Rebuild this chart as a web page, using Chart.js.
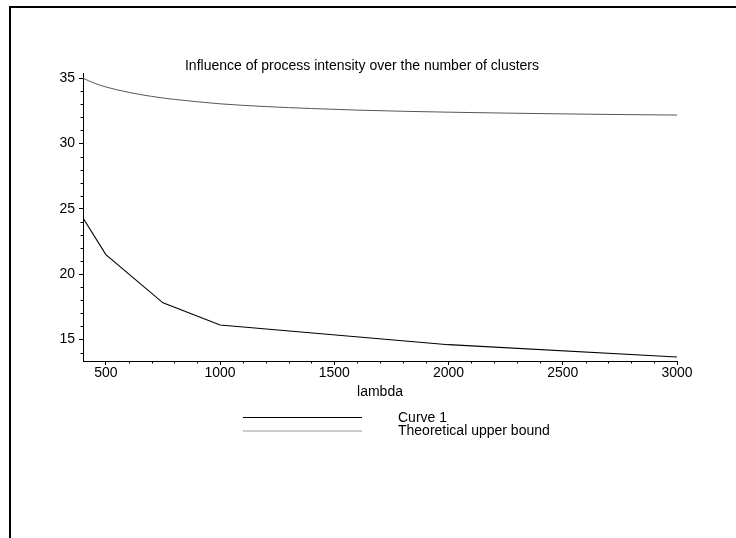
<!DOCTYPE html>
<html>
<head>
<meta charset="utf-8">
<script src="https://cdn.jsdelivr.net/npm/chart.js@4.4.0/dist/chart.umd.min.js"></script>
<style>
  html, body { margin: 0; padding: 0; background: #fff; overflow: hidden; }
  #wrap { position: absolute; left: 0; top: 0; width: 736px; height: 538px; }
</style>
</head>
<body>
<div id="wrap"><canvas id="chart"></canvas></div>
<script>
// values
const lambdaCurve = [400, 500, 750, 1000, 2000, 3000];
const curve1 = [24.3, 21.5, 17.8, 16.1, 14.6, 13.66];
const lambdaBound = [400, 450, 500, 600, 700, 800, 900, 1000, 1200, 1400, 1600, 1800, 2000, 2250, 2500, 2750, 3000];
const upperBound = [35.0, 34.62, 34.33, 33.92, 33.61, 33.38, 33.2, 33.04, 32.83, 32.68, 32.56, 32.47, 32.4, 32.33, 32.27, 32.22, 32.18];
const xTicks = [500, 1000, 1500, 2000, 2500, 3000];
const yTicks = [15, 20, 25, 30, 35];
const seriesNames = ["Curve 1", "Theoretical upper bound"];
const chartTitle = "Influence of process intensity over the number of clusters";

const FONT = "'Liberation Sans', Arial, sans-serif";
Chart.defaults.font.family = FONT;
Chart.defaults.color = "#000";

// page frame: only the top and left edges show in the original
const pageFrame = {
  id: "pageFrame",
  beforeDraw(chart) {
    const { ctx, width, height } = chart;
    ctx.save();
    ctx.strokeStyle = "#000";
    ctx.lineWidth = 2;
    ctx.beginPath();
    ctx.moveTo(10, height);
    ctx.lineTo(10, 7);
    ctx.lineTo(width, 7);
    ctx.stroke();
    ctx.restore();
  }
};

// small ticks between the labelled ones, like the original plot
const minorTicks = {
  id: "minorTicks",
  afterDraw(chart) {
    const { ctx, scales: { x, y } } = chart;
    ctx.save();
    ctx.strokeStyle = "#000";
    ctx.lineWidth = 1;
    ctx.beginPath();
    for (let v = 500; v < 3000; v += 100) {
      if (v % 500 === 0) continue;
      const px = Math.round(x.getPixelForValue(v)) + 0.5;
      ctx.moveTo(px, y.bottom);
      ctx.lineTo(px, y.bottom + 2.5);
    }
    for (let v = 14; v <= 35; v++) {
      if (v % 5 === 0) continue;
      const py = Math.round(y.getPixelForValue(v)) + 0.5;
      ctx.moveTo(x.left, py);
      ctx.lineTo(x.left - 2.5, py);
    }
    ctx.stroke();
    ctx.restore();
  }
};

// title and the legend block under the axis
const annotations = {
  id: "annotations",
  afterDraw(chart) {
    const { ctx } = chart;
    ctx.save();
    ctx.fillStyle = "#000";
    ctx.font = "14px " + FONT;
    ctx.textAlign = "center";
    ctx.textBaseline = "middle";
    ctx.fillText(chartTitle, 362, 66);

    ctx.textAlign = "left";
    chart.data.datasets.forEach((ds, i) => {
      const ly = 417 + i * 13.5;
      ctx.strokeStyle = ds.legendColor;
      ctx.lineWidth = 1.2;
      ctx.beginPath();
      ctx.moveTo(243, ly + 0.5);
      ctx.lineTo(362, ly + 0.5);
      ctx.stroke();
      ctx.fillText(ds.label, 398, ly + 1);
    });
    ctx.restore();
  }
};

new Chart(document.getElementById("chart"), {
  type: "line",
  data: {
    datasets: [
      {
        label: seriesNames[0],
        data: lambdaCurve.map((l, i) => ({ x: l, y: curve1[i] })),
        borderColor: "#000",
        legendColor: "#000",
        borderWidth: 1.1,
        pointRadius: 0,
        tension: 0
      },
      {
        label: seriesNames[1],
        data: lambdaBound.map((l, i) => ({ x: l, y: upperBound[i] })),
        borderColor: "#555",
        legendColor: "#999",
        borderWidth: 1,
        pointRadius: 0,
        cubicInterpolationMode: "monotone"
      }
    ]
  },
  options: {
    responsive: true,
    maintainAspectRatio: false,
    animation: false,
    layout: { padding: { left: 0, right: 59, top: 73, bottom: 137 } },
    plugins: {
      legend: { display: false },
      title: { display: false },
      tooltip: { enabled: false }
    },
    scales: {
      x: {
        type: "linear",
        min: 400,
        max: 3000,
        afterBuildTicks: s => { s.ticks = xTicks.map(v => ({ value: v })); },
        afterFit: s => { s.height = 40; },
        grid: { drawOnChartArea: false, drawTicks: true, tickLength: 4, color: "#000" },
        border: { color: "#000", width: 1 },
        ticks: { color: "#000", font: { size: 14 }, padding: 0, maxRotation: 0, autoSkip: false, callback: v => String(v) },
        title: { display: true, text: "lambda", color: "#000", font: { size: 14 }, padding: 0 }
      },
      y: {
        min: 13.35,
        max: 35.4,
        afterBuildTicks: s => { s.ticks = yTicks.map(v => ({ value: v })); },
        afterFit: s => { s.width = 83; },
        grid: { drawOnChartArea: false, drawTicks: true, tickLength: 4, color: "#000" },
        border: { color: "#000", width: 1 },
        ticks: { color: "#000", font: { size: 14 }, padding: 4 }
      }
    }
  },
  plugins: [pageFrame, minorTicks, annotations]
});
</script>
</body>
</html>
